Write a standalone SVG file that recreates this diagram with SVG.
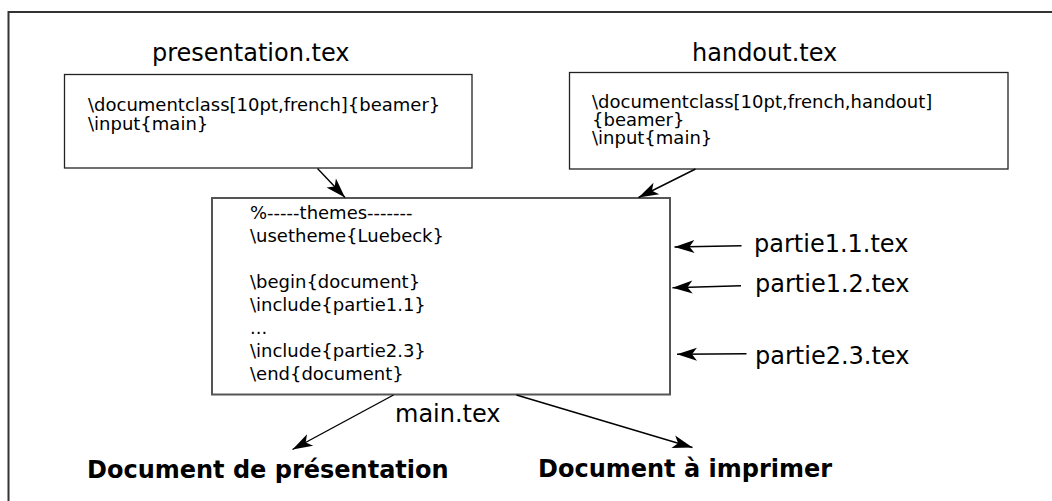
<svg xmlns="http://www.w3.org/2000/svg" width="1052" height="501" viewBox="0 0 1052 501">
  <defs>
    <marker id="arrow" markerUnits="userSpaceOnUse" markerWidth="24" markerHeight="18" viewBox="-22 -9 24 18" refX="0" refY="0" orient="auto">
      <path d="M0,0 L-20,-6.5 L-15,0 L-20,6.5 Z" fill="#000"/>
    </marker>
  </defs>
  <style>
    text { font-family: "DejaVu Sans", "Liberation Sans", sans-serif; fill: #000; }
    .code { font-size: 18px; }
    .label { font-size: 24px; }
    .bold { font-size: 24px; font-weight: bold; }
    .box { fill: #fff; stroke: #222; stroke-width: 1.3; }
    .mainbox { fill: #fff; stroke: #555; stroke-width: 2; }
    .conn { fill: none; stroke: #000; stroke-width: 1.4; marker-end: url(#arrow); }
  </style>
  <rect width="1052" height="501" fill="#fff"/>
  <rect id="frame" x="8.5" y="12" width="1200" height="700" fill="none" stroke="#333" stroke-width="2"/>

  <g id="presentation">
    <text class="label" x="152" y="61">presentation.tex</text>
    <rect class="box" x="64.5" y="74.5" width="407.5" height="93.5"/>
    <text class="code" x="88" y="111">\documentclass[10pt,french]{beamer}</text>
    <text class="code" x="88" y="129.5">\input{main}</text>
  </g>

  <g id="handout">
    <text class="label" x="692" y="61">handout.tex</text>
    <rect class="box" x="569.5" y="72.5" width="438.5" height="96.5"/>
    <text class="code" x="592" y="108">\documentclass[10pt,french,handout]</text>
    <text class="code" x="592" y="126">{beamer}</text>
    <text class="code" x="592" y="144">\input{main}</text>
  </g>

  <g id="main">
    <rect class="mainbox" x="212" y="198" width="458" height="196.5"/>
    <text class="code" x="250" y="218.5">%-----themes-------</text>
    <text class="code" x="250" y="241.5">\usetheme{Luebeck}</text>
    <text class="code" x="250" y="287.5">\begin{document}</text>
    <text class="code" x="250" y="310.5">\include{partie1.1}</text>
    <text class="code" x="250" y="333.5">...</text>
    <text class="code" x="250" y="356.5">\include{partie2.3}</text>
    <text class="code" x="250" y="379.5">\end{document}</text>
    <text class="label" x="395" y="422">main.tex</text>
  </g>

  <g id="partie11">
    <text class="label" x="754" y="252">partie1.1.tex</text>
  </g>
  <g id="partie12">
    <text class="label" x="755" y="291.5">partie1.2.tex</text>
  </g>
  <g id="partie23">
    <text class="label" x="755" y="364">partie2.3.tex</text>
  </g>

  <g id="doc-presentation">
    <text class="bold" x="87" y="478">Document de présentation</text>
  </g>
  <g id="doc-imprimer">
    <text class="bold" x="538" y="477">Document à imprimer</text>
  </g>

  <g id="connectors">
    <line class="conn" x1="317.5" y1="168.5" x2="345" y2="197.5"/>
    <line class="conn" x1="695.5" y1="169" x2="638.5" y2="197.5"/>
    <line class="conn" x1="741.5" y1="245.7" x2="674.5" y2="247"/>
    <line class="conn" x1="741" y1="285.7" x2="672.5" y2="287.7"/>
    <line class="conn" x1="746.5" y1="353.7" x2="677" y2="354.3"/>
    <line class="conn" x1="393.5" y1="395" x2="292.5" y2="449.5"/>
    <line class="conn" x1="516.5" y1="395" x2="692.5" y2="447.5"/>
  </g>
</svg>
